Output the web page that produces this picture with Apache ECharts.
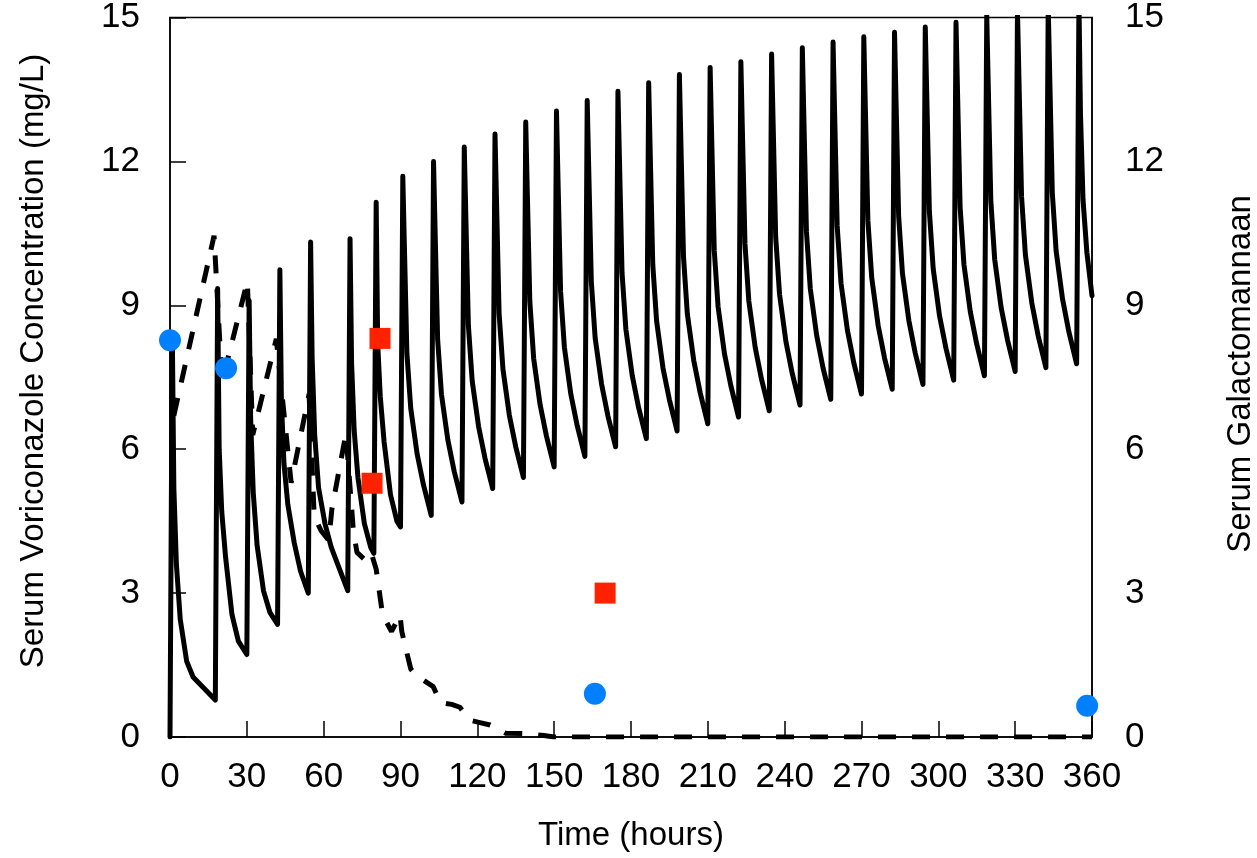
<!DOCTYPE html>
<html>
<head>
<meta charset="utf-8">
<title>Serum voriconazole and galactomannan</title>
<script src="https://cdn.jsdelivr.net/npm/echarts@6/dist/echarts.min.js"></script>
<style>
  html, body { margin: 0; padding: 0; background: #fff; }
  #chart { width: 1257px; height: 858px; }
</style>
</head>
<body>
<div id="chart"></div>
<script>
// x axis ticks (hours) and y ticks
const timeTicks = [0, 30, 60, 90, 120, 150, 180, 210, 240, 270, 300, 330, 360]
const concTicks = [0, 3, 6, 9, 12, 15]

// voriconazole: dose start times (h), level just before each dose, peak and the fall afterwards
const doseTimes = [0, 17.7, 30, 42, 54, 69.4, 79.6,
  90, 102, 114, 126, 138, 150, 162, 174, 186, 198, 210, 222, 234, 246, 258, 270, 282, 294, 306, 318, 330, 342, 354]
const sampleOffsets = [0.9, 1.5, 2.5, 4, 6.5, 9] // hours after dose: peak, then falls A..E
const troughValues = [0, 0.77, 1.72, 2.35, 3.0, 3.05, 3.83,
  4.38, 4.62, 4.9, 5.18, 5.41, 5.63, 5.85, 6.05, 6.22, 6.38, 6.53, 6.67, 6.8, 6.92, 7.04, 7.15, 7.25, 7.35, 7.44, 7.53, 7.62, 7.7, 7.78]
const peakValues = [8.4, 9.35, 9.1, 9.74, 10.32, 10.39, 11.15,
  11.69, 12.0, 12.3, 12.57, 12.82, 13.05, 13.27, 13.46, 13.64, 13.81, 13.96, 14.08, 14.24, 14.37, 14.49, 14.6, 14.69, 14.8, 14.9, 15.05, 15.15, 15.25, 15.35]
const fallA = [5.2, 6.0, 6.6, 7.0, 7.9, 7.8, 8.2,
  10.28, 10.58, 10.88, 11.14, 11.38, 11.61, 11.83, 12.01, 12.19, 12.35, 12.5, 12.62, 12.78, 12.9, 13.02, 13.13, 13.22, 13.33, 13.43, 13.56, 13.66, 13.76, 13.0]
const fallB = [3.6, 4.7, 5.1, 5.7, 6.3, 6.4, 7.1,
  8.0, 8.29, 8.58, 8.83, 9.07, 9.29, 9.5, 9.68, 9.85, 10.01, 10.15, 10.28, 10.42, 10.54, 10.66, 10.76, 10.86, 10.96, 11.05, 11.17, 11.26, 11.35, 11.2]
const fallC = [2.45, 3.75, 4.0, 4.85, 5.2, 5.4, 6.15,
  6.85, 7.14, 7.42, 7.67, 7.89, 8.12, 8.32, 8.5, 8.67, 8.82, 8.97, 9.09, 9.23, 9.35, 9.46, 9.57, 9.66, 9.76, 9.85, 9.96, 10.05, 10.13, 10.1]
const fallD = [1.58, 2.55, 3.05, 4.05, 4.45, 4.45, 5.05,
  5.9, 6.19, 6.47, 6.71, 6.93, 7.15, 7.36, 7.53, 7.69, 7.85, 7.99, 8.12, 8.24, 8.37, 8.48, 8.58, 8.68, 8.77, 8.86, 8.96, 9.05, 9.13, null]
const fallE = [1.25, 2.0, 2.6, 3.45, 3.95, 3.95, 4.5,
  5.25, 5.53, 5.81, 6.05, 6.27, 6.49, 6.69, 6.86, 7.03, 7.18, 7.32, 7.45, 7.57, 7.69, 7.8, 7.9, 8.0, 8.1, 8.19, 8.28, 8.36, 8.44, null]
const endTime = 360
const endValue = 9.2

// galactomannan (dashed line)
const gmTimes = [1.5, 17.2, 20.3, 30.2, 32.3, 41.5, 47.3, 54.3, 56.3, 59, 62, 63.2, 68.7, 71.6, 73, 76, 78.5, 80.5, 83, 86.5, 89.8,
  90.5, 92.5, 94, 96.5, 99, 102.8, 105.5, 110, 113.2, 117, 121, 125, 131, 139, 146, 150, 360]
const gmValues = [6.7, 10.45, 7.4, 9.5, 6.3, 8.3, 5.3, 7.15, 4.6, 4.3, 4.1, 4.75, 6.33, 4.3, 3.85, 3.7, 3.85, 3.5, 2.55, 2.2, 2.55,
  2.2, 1.75, 1.42, 1.25, 1.18, 1.05, 0.72, 0.68, 0.62, 0.35, 0.3, 0.25, 0.08, 0.07, 0.03, 0, 0]

// measured points
const circleTimes = [0, 21.9, 165.9, 358.1]
const circleValues = [8.27, 7.69, 0.9, 0.65]
const squareTimes = [78.9, 82, 169.9]
const squareValues = [5.29, 8.31, 3.0]

const voriPoints = []
doseTimes.forEach((d, i) => {
  voriPoints.push([d, troughValues[i]])
  const vals = [peakValues[i], fallA[i], fallB[i], fallC[i], fallD[i], fallE[i]]
  sampleOffsets.forEach((o, j) => {
    if (vals[j] != null) voriPoints.push([d + o, vals[j]])
  })
})
voriPoints.push([endTime, endValue])

const gmPoints = gmTimes.map((t, i) => [t, gmValues[i]])
const circlePoints = circleTimes.map((t, i) => [t, circleValues[i]])
const squarePoints = squareTimes.map((t, i) => [t, squareValues[i]])

const font = "'Liberation Sans', Arial, sans-serif"
const chart = echarts.init(document.getElementById('chart'))

const valueAxis = (position, showTick, margin) => ({
  type: 'value',
  position: position,
  min: concTicks[0],
  max: concTicks[concTicks.length - 1],
  interval: concTicks[1] - concTicks[0],
  axisLine: { show: true, lineStyle: { color: '#000', width: 1.5 } },
  axisTick: { show: showTick, inside: true, length: 16, lineStyle: { color: '#000', width: 1.5 } },
  axisLabel: { margin: margin, fontSize: 35, color: '#000', fontFamily: font },
  splitLine: { show: false }
})

chart.setOption({
  animation: false,
  backgroundColor: '#fff',
  grid: {
    left: 170,
    right: 165,
    top: 17,
    bottom: 121,
    show: true,
    borderColor: '#000',
    borderWidth: 1.5
  },
  xAxis: {
    type: 'value',
    min: timeTicks[0],
    max: timeTicks[timeTicks.length - 1],
    interval: timeTicks[1] - timeTicks[0],
    axisLine: { lineStyle: { color: '#000', width: 1.5 } },
    axisTick: { inside: true, length: 16, lineStyle: { color: '#000', width: 1.5 } },
    axisLabel: { margin: 23, fontSize: 35, color: '#000', fontFamily: font },
    splitLine: { show: false }
  },
  yAxis: [
    valueAxis('left', true, 30),
    valueAxis('right', false, 33)
  ],
  graphic: [
    {
      type: 'text', x: 34, y: 361, rotation: Math.PI / 2,
      style: { text: 'Serum Voriconazole Concentration (mg/L)', fontSize: 33, fontFamily: font, fill: '#000', align: 'center', verticalAlign: 'middle' }
    },
    {
      type: 'text', x: 1241, y: 374, rotation: Math.PI / 2,
      style: { text: 'Serum Galactomannaan', fontSize: 33, fontFamily: font, fill: '#000', align: 'center', verticalAlign: 'middle' }
    },
    {
      type: 'text', x: 631, y: 836,
      style: { text: 'Time (hours)', fontSize: 33, fontFamily: font, fill: '#000', align: 'center', verticalAlign: 'middle' }
    }
  ],
  series: [
    {
      name: 'Voriconazole',
      type: 'line',
      data: voriPoints,
      showSymbol: false,
      symbol: 'none',
      lineStyle: { color: '#000', width: 5, cap: 'round', join: 'round' },
      z: 2
    },
    {
      name: 'Galactomannan',
      type: 'line',
      yAxisIndex: 1,
      data: gmPoints,
      showSymbol: false,
      symbol: 'none',
      lineStyle: { color: '#000', width: 5, type: [18, 16] },
      z: 3
    },
    {
      name: 'GM circles',
      type: 'scatter',
      yAxisIndex: 1,
      data: circlePoints,
      symbol: 'circle',
      symbolSize: 22,
      itemStyle: { color: '#0080ff', opacity: 1 },
      z: 5
    },
    {
      name: 'GM squares',
      type: 'scatter',
      yAxisIndex: 1,
      data: squarePoints,
      symbol: 'rect',
      symbolSize: 21,
      itemStyle: { color: '#ff2200', opacity: 1 },
      z: 5
    }
  ]
})

window.addEventListener('resize', () => {
  chart.resize()
})
</script>
</body>
</html>
